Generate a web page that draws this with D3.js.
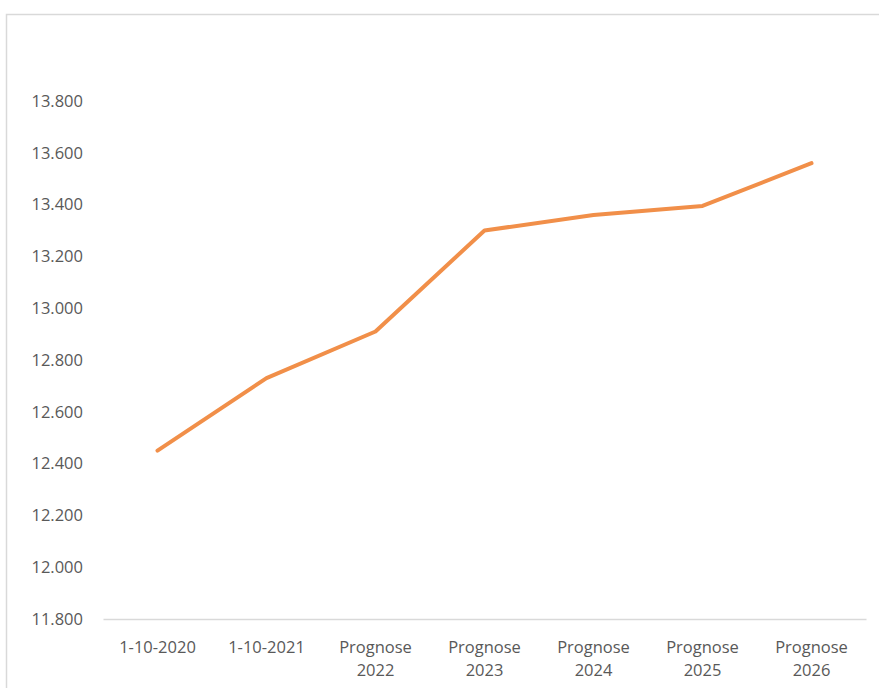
<!DOCTYPE html>
<html>
<head>
<meta charset="utf-8">
<script src="https://cdn.jsdelivr.net/npm/d3@7"></script>
<style>
  body { margin: 0; background: #fff; }
  svg text { font-family: "Open Sans", "Noto Sans", sans-serif; fill: #595959; }
</style>
</head>
<body>
<svg id="chart" width="879" height="688"></svg>
<script>
// categories and values
let categories = ["1-10-2020", "1-10-2021", "Prognose 2022", "Prognose 2023",
                  "Prognose 2024", "Prognose 2025", "Prognose 2026"];
let values = [12450, 12730, 12910, 13300, 13360, 13395, 13560];
let yTicks = [11800, 12000, 12200, 12400, 12600, 12800, 13000, 13200, 13400, 13600, 13800];

let svg = d3.select("#chart");
let margin = {top: 101, left: 103, right: 13, bottom: 69};
let width = 879 - margin.left - margin.right;
let plotBottom = 688 - margin.bottom;
let fontSize = "16.5px";

// chart frame
svg.append("rect")
    .attr("x", 6.5).attr("y", 14.5)
    .attr("width", 900).attr("height", 700)
    .attr("fill", "none")
    .attr("stroke", "#d9d9d9")
    .attr("stroke-width", 1.5);

let x = d3.scaleBand()
    .domain(categories)
    .range([margin.left, margin.left + width]);

let y = d3.scaleLinear()
    .domain([11800, 13800])
    .range([plotBottom, margin.top]);

let fmt = d => d3.format(",")(d).replace(/,/g, ".");

// y axis labels only
let yAxis = svg.append("g")
    .attr("transform", "translate(83,0)")
    .call(d3.axisLeft(y).tickValues(yTicks).tickFormat(fmt).tickSize(0).tickPadding(0));
yAxis.select(".domain").remove();
yAxis.selectAll("text")
    .style("font-size", fontSize)
    .attr("fill", "#595959");

// x axis
let xAxis = svg.append("g")
    .attr("transform", "translate(0," + plotBottom + ")")
    .call(d3.axisBottom(x).tickSize(0).tickFormat(""));
xAxis.select(".domain").attr("stroke", "#d9d9d9").attr("stroke-width", 1.5);

xAxis.selectAll(".tick").each(function (d) {
    let parts = d.startsWith("Prognose") ? d.split(" ") : [d];
    let t = d3.select(this).append("text")
        .attr("text-anchor", "middle")
        .style("font-size", fontSize)
        .attr("fill", "#595959");
    parts.forEach((p, i) => {
        t.append("tspan")
            .attr("x", 0)
            .attr("y", 34 + i * 23)
            .text(p);
    });
});

// line
let line = d3.line()
    .x((d, i) => x(categories[i]) + x.bandwidth() / 2)
    .y(d => y(d));

svg.append("path")
    .datum(values)
    .attr("d", line)
    .attr("fill", "none")
    .attr("stroke", "#F18F49")
    .attr("stroke-width", 4)
    .attr("stroke-linecap", "round")
    .attr("stroke-linejoin", "round");
</script>
</body>
</html>
